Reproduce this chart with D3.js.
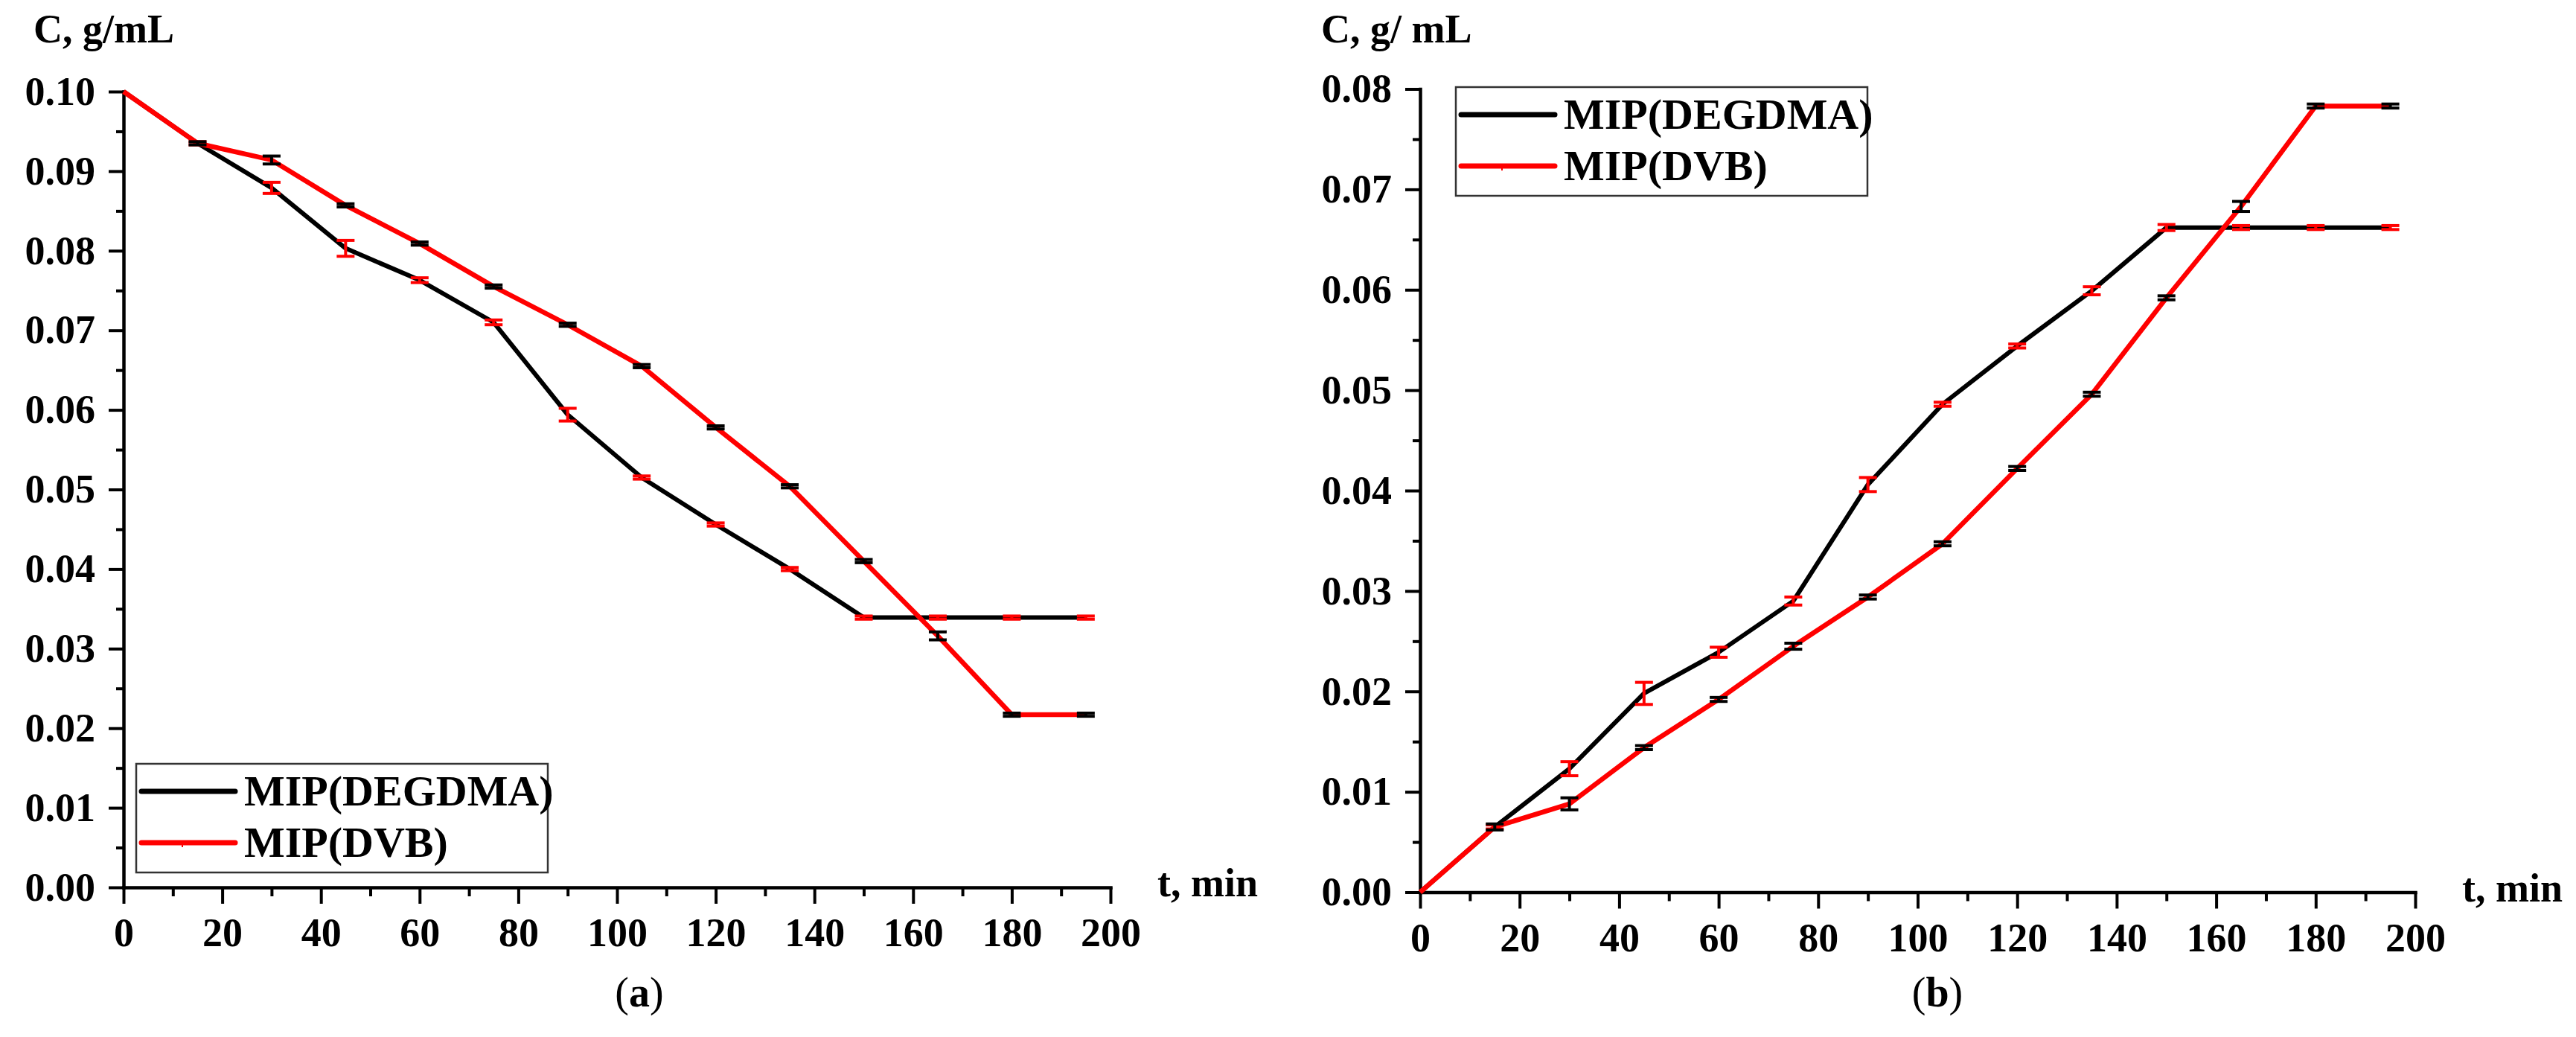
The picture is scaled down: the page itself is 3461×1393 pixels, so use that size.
<!DOCTYPE html>
<html>
<head>
<meta charset="utf-8">
<script src="https://cdn.jsdelivr.net/npm/d3@7"></script>
<style>
  html, body { margin: 0; padding: 0; background: #fff; }
  svg { display: block; }
  text { font-family: "Liberation Serif", "Times New Roman", serif; }
</style>
</head>
<body>
<svg id="chart" width="3461" height="1393"></svg>
<script>
// ---------------- DATA ----------------
const times = [0, 15, 30, 45, 60, 75, 90, 105, 120, 135, 150, 165, 180, 195];
const seriesNames = ["MIP(DEGDMA)", "MIP(DVB)"];

// Panel (a)
const degdmaA = [0.1000, 0.0935, 0.0879, 0.0803, 0.0763, 0.0710, 0.0594, 0.0515, 0.0456, 0.0400, 0.0339, 0.0339, 0.0339, 0.0339];
const dvbA    = [0.1000, 0.0935, 0.0914, 0.0857, 0.0809, 0.0755, 0.0707, 0.0655, 0.0578, 0.0504, 0.0410, 0.0316, 0.0217, 0.0217];
const errDegdmaA = [0, 0.0002, 0.0007, 0.0010, 0.0003, 0.0003, 0.0008, 0.0002, 0.0002, 0.0002, 0.0002, 0.0002, 0.0002, 0.0002];
const errDvbA    = [0, 0.0002, 0.0005, 0.0002, 0.0002, 0.0002, 0.0002, 0.0002, 0.0002, 0.0002, 0.0002, 0.0005, 0.0002, 0.0002];

// Panel (b)
const degdmaB = [0, 0.0065, 0.0123, 0.0198, 0.0239, 0.0290, 0.0406, 0.0486, 0.0544, 0.0599, 0.0662, 0.0662, 0.0662, 0.0662];
const dvbB    = [0, 0.0065, 0.0088, 0.0144, 0.0192, 0.0245, 0.0294, 0.0347, 0.0422, 0.0496, 0.0592, 0.0683, 0.0783, 0.0783];
const errDegdmaB = [0, 0.0002, 0.0007, 0.0011, 0.0005, 0.0004, 0.0007, 0.0002, 0.0002, 0.0004, 0.0003, 0.0002, 0.0002, 0.0002];
const errDvbB    = [0, 0.0003, 0.0006, 0.0002, 0.0002, 0.0003, 0.0002, 0.0002, 0.0002, 0.0002, 0.0002, 0.0005, 0.0002, 0.0002];

// Ticks
const xMajorTicks = [0, 20, 40, 60, 80, 100, 120, 140, 160, 180, 200];
const xMinorTicks = [10, 30, 50, 70, 90, 110, 130, 150, 170, 190];
const yMajorTicksA = [0, 0.01, 0.02, 0.03, 0.04, 0.05, 0.06, 0.07, 0.08, 0.09, 0.10];
const yMinorTicksA = [0.005, 0.015, 0.025, 0.035, 0.045, 0.055, 0.065, 0.075, 0.085, 0.095];
const yMajorTicksB = [0, 0.01, 0.02, 0.03, 0.04, 0.05, 0.06, 0.07, 0.08];
const yMinorTicksB = [0.005, 0.015, 0.025, 0.035, 0.045, 0.055, 0.065, 0.075];

// Labels
const yTitleA = "C, g/mL";
const yTitleB = "C, g/ mL";
const xTitle = "t, min";

// ---------------- DRAW ----------------
const svg = d3.select("#chart");
const FONT = "Liberation Serif, Times New Roman, serif";

function panel(cfg) {
  const x = d3.scaleLinear().domain([0, 200]).range([cfg.x0, cfg.x1]);
  const y = d3.scaleLinear().domain([0, cfg.yMax]).range([cfg.y0, cfg.y1]);
  const g = svg.append("g");

  // minor ticks
  g.append("g").attr("transform", `translate(0,${cfg.y0})`)
    .call(d3.axisBottom(x).tickValues(xMinorTicks).tickSize(12).tickFormat(""))
    .call(s => s.select(".domain").remove())
    .call(s => s.selectAll("line").attr("stroke", "#000").attr("stroke-width", 4));
  g.append("g").attr("transform", `translate(${cfg.x0},0)`)
    .call(d3.axisLeft(y).tickValues(cfg.yMinor).tickSize(10).tickFormat(""))
    .call(s => s.select(".domain").remove())
    .call(s => s.selectAll("line").attr("stroke", "#000").attr("stroke-width", 4));

  // major axes
  const xa = g.append("g").attr("transform", `translate(0,${cfg.y0})`)
    .call(d3.axisBottom(x).tickValues(xMajorTicks).tickSize(22).tickSizeOuter(0).tickPadding(19).tickFormat(d3.format("d")));
  const ya = g.append("g").attr("transform", `translate(${cfg.x0},0)`)
    .call(d3.axisLeft(y).tickValues(cfg.yMajor).tickSize(20).tickSizeOuter(0).tickPadding(18).tickFormat(d3.format(".2f")));
  [xa, ya].forEach(a => {
    a.select(".domain").attr("stroke", "#000").attr("stroke-width", 4.5).attr("stroke-linecap", "square");
    a.selectAll(".tick line").attr("stroke", "#000").attr("stroke-width", 4);
    a.selectAll(".tick text").attr("fill", "#000").style("font-family", FONT)
      .style("font-size", "54px").style("font-weight", "bold");
  });

  // lines
  const line = d3.line().x((d, i) => x(times[i])).y(d => y(d));
  g.append("path").datum(cfg.black).attr("d", line)
    .attr("fill", "none").attr("stroke", "#000").attr("stroke-width", 6).attr("stroke-linejoin", "round");
  g.append("path").datum(cfg.red).attr("d", line)
    .attr("fill", "none").attr("stroke", "#ff0000").attr("stroke-width", 6.5).attr("stroke-linejoin", "round");

  // error bars (colour swapped as in the original)
  function errBars(vals, errs, color) {
    const eg = g.append("g").attr("stroke", color).attr("stroke-width", 4);
    times.forEach((t, i) => {
      if (!errs[i]) return;
      const cx = x(t), yt = y(vals[i] + errs[i]), yb = y(vals[i] - errs[i]);
      eg.append("line").attr("x1", cx).attr("x2", cx).attr("y1", yt).attr("y2", yb);
      eg.append("line").attr("x1", cx - 12).attr("x2", cx + 12).attr("y1", yt).attr("y2", yt);
      eg.append("line").attr("x1", cx - 12).attr("x2", cx + 12).attr("y1", yb).attr("y2", yb);
    });
  }
  errBars(cfg.black, cfg.errBlack, "#ff0000");
  errBars(cfg.red, cfg.errRed, "#000");

  // titles
  g.append("text").attr("x", cfg.yTitleX).attr("y", 57).text(cfg.yTitle)
    .style("font-size", "54px").style("font-weight", "bold").attr("fill", "#000");
  g.append("text").attr("x", cfg.xTitleX).attr("y", cfg.y0 + 12).text(xTitle)
    .style("font-size", "54px").style("font-weight", "bold").attr("fill", "#000");

  // legend
  const lg = g.append("g").attr("transform", `translate(${cfg.legX},${cfg.legY})`);
  lg.append("rect").attr("x", 0).attr("y", 0).attr("width", 553).attr("height", 146)
    .attr("fill", "#fff").attr("stroke", "#333").attr("stroke-width", 2.5);
  const colors = ["#000", "#ff0000"];
  seriesNames.forEach((name, i) => {
    const ly = 37 + i * 69;
    lg.append("line").attr("x1", 7).attr("x2", 133).attr("y1", ly).attr("y2", ly)
      .attr("stroke", colors[i]).attr("stroke-width", 7).attr("stroke-linecap", "round");
    if (i === 1) {
      lg.append("line").attr("x1", 62).attr("x2", 62).attr("y1", ly).attr("y2", ly + 6)
        .attr("stroke", colors[i]).attr("stroke-width", 2);
    }
    lg.append("text").attr("x", 145).attr("y", ly + 19).text(name)
      .style("font-size", "58px").style("font-weight", "bold").attr("fill", "#000");
  });

  // panel letter
  const pl = g.append("text").attr("x", cfg.letterX).attr("y", 1352).attr("text-anchor", "middle")
    .style("font-size", "56px").attr("fill", "#000");
  pl.append("tspan").text("(");
  pl.append("tspan").style("font-weight", "bold").text(cfg.letter);
  pl.append("tspan").text(")");
}

panel({
  x0: 166, x1: 1492, y0: 1192, y1: 123, yMax: 0.10,
  yMajor: yMajorTicksA, yMinor: yMinorTicksA,
  black: degdmaA, red: dvbA, errBlack: errDegdmaA, errRed: errDvbA,
  yTitle: yTitleA, yTitleX: 45, xTitleX: 1555,
  legX: 183, legY: 1026, letter: "a", letterX: 859
});

panel({
  x0: 1908, x1: 3245, y0: 1198.5, y1: 119.5, yMax: 0.08,
  yMajor: yMajorTicksB, yMinor: yMinorTicksB,
  black: degdmaB, red: dvbB, errBlack: errDegdmaB, errRed: errDvbB,
  yTitle: yTitleB, yTitleX: 1775, xTitleX: 3308,
  legX: 1956, legY: 117, letter: "b", letterX: 2603
});
</script>
</body>
</html>
